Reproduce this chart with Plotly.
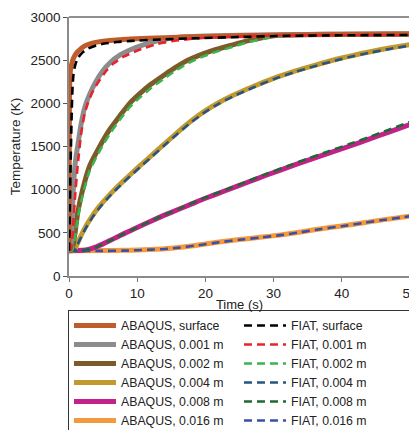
import plotly.graph_objects as go

# ---------------- data (time in s, temperature in K) ----------------
t_abq_surf = [0, 0.03, 0.06, 0.1, 0.15, 0.22, 0.35, 0.55, 0.85, 1.3, 2.3, 3.3, 4.3, 6, 9, 14, 20, 30, 40, 50]
T_abq_surf = [293, 1200, 1900, 2200, 2320, 2390, 2440, 2500, 2555, 2600, 2665, 2695, 2712, 2728, 2745, 2760, 2775, 2790, 2798, 2802]

t_fiat_surf = [0, 0.1, 0.2, 0.3, 0.4, 0.5, 0.65, 0.9, 1.3, 2, 2.8, 4, 5.2, 7, 9.2, 14, 18, 25, 32, 40, 50]
T_fiat_surf = [293, 700, 1150, 1550, 1900, 2150, 2330, 2440, 2525, 2590, 2634, 2670, 2692, 2710, 2723, 2742, 2752, 2768, 2782, 2788, 2792]

t_abq_001 = [0, 0.2, 0.35, 0.6, 0.9, 1.3, 1.8, 2.3, 3, 4, 5, 6, 7.5, 9, 11, 13, 15, 17, 20, 30, 40, 50]
T_abq_001 = [293, 300, 400, 950, 1300, 1520, 1770, 1950, 2100, 2260, 2380, 2470, 2560, 2620, 2680, 2725, 2755, 2770, 2780, 2795, 2800, 2802]

t_fiat_001 = [0, 0.3, 0.6, 0.9, 1.3, 1.8, 2.3, 2.8, 3.5, 4.5, 5.5, 6.5, 8, 9.5, 11, 13, 15.5, 18, 20, 25, 30, 40, 50]
T_fiat_001 = [293, 310, 580, 930, 1300, 1660, 1880, 2010, 2140, 2270, 2380, 2460, 2540, 2595, 2640, 2690, 2725, 2748, 2760, 2775, 2785, 2790, 2792]

t_002 = [0, 0.4, 0.8, 1.3, 2, 3, 4.5, 6, 7.5, 8.9, 10.5, 12, 14, 15.5, 17.2, 18.9, 21, 23.8, 26, 28.7, 31, 35, 40, 50]
T_abq_002 = [293, 300, 450, 744, 1000, 1270, 1500, 1700, 1860, 2000, 2120, 2220, 2330, 2410, 2490, 2550, 2610, 2673, 2720, 2765, 2790, 2798, 2800, 2802]
T_fiat_002 = [293, 293, 400, 680, 935, 1210, 1450, 1650, 1815, 1955, 2075, 2175, 2290, 2372, 2455, 2518, 2582, 2650, 2702, 2752, 2778, 2786, 2790, 2792]

t_004 = [0, 0.8, 1.2, 1.6, 2.3, 3.3, 4.3, 5.5, 6.7, 8, 9.2, 10.5, 12, 14, 16, 18, 20, 22, 24, 27, 30, 33, 36, 40, 44, 47, 50]
T_abq_004 = [293, 300, 370, 440, 552, 682, 792, 902, 1002, 1102, 1190, 1283, 1388, 1530, 1670, 1800, 1915, 2010, 2090, 2195, 2290, 2370, 2440, 2525, 2595, 2640, 2680]
T_fiat_004 = [293, 295, 355, 422, 532, 663, 774, 885, 985, 1085, 1173, 1266, 1372, 1514, 1654, 1786, 1901, 1997, 2078, 2183, 2280, 2360, 2430, 2515, 2585, 2630, 2670]

t_008 = [0, 2, 3, 4, 5, 6, 7, 8, 9, 10, 12, 14, 16, 18, 20, 23, 26, 29, 32, 35, 38, 41, 44, 47, 50]
T_abq_008 = [293, 297, 312, 338, 372, 410, 450, 488, 525, 562, 635, 705, 770, 835, 900, 990, 1080, 1170, 1255, 1340, 1420, 1500, 1585, 1670, 1755]
T_fiat_008 = [293, 297, 312, 336, 370, 408, 448, 487, 525, 563, 637, 708, 775, 842, 908, 1000, 1092, 1185, 1272, 1360, 1443, 1525, 1610, 1697, 1785]

t_016 = [0, 5, 8, 10, 12, 14, 16, 19, 22, 25, 28, 31, 34, 37, 40, 43, 46, 50]
T_abq_016 = [293, 294, 297, 302, 308, 316, 330, 360, 393, 422, 448, 476, 510, 548, 580, 615, 650, 694]
T_fiat_016 = [290, 291, 294, 299, 305, 313, 327, 357, 390, 419, 445, 473, 507, 545, 577, 612, 648, 692]

x_ticks = [0, 10, 20, 30, 40, 50]
y_ticks = [0, 500, 1000, 1500, 2000, 2500, 3000]

# ---------------- series definitions ----------------
abaqus = [
    ("ABAQUS, surface", t_abq_surf, T_abq_surf, "#C05B2C"),
    ("ABAQUS, 0.001 m", t_abq_001, T_abq_001, "#8C8C8C"),
    ("ABAQUS, 0.002 m", t_002, T_abq_002, "#7B5B29"),
    ("ABAQUS, 0.004 m", t_004, T_abq_004, "#C2992F"),
    ("ABAQUS, 0.008 m", t_008, T_abq_008, "#C2218A"),
    ("ABAQUS, 0.016 m", t_016, T_abq_016, "#F59A3C"),
]
fiat = [
    ("FIAT, surface", t_fiat_surf, T_fiat_surf, "#000000"),
    ("FIAT, 0.001 m", t_fiat_001, T_fiat_001, "#E8232B"),
    ("FIAT, 0.002 m", t_002, T_fiat_002, "#3CB44E"),
    ("FIAT, 0.004 m", t_004, T_fiat_004, "#28557F"),
    ("FIAT, 0.008 m", t_008, T_fiat_008, "#1E6A33"),
    ("FIAT, 0.016 m", t_016, T_fiat_016, "#3A4FA6"),
]

fig = go.Figure()
for i in reversed(range(len(abaqus))):
    name, tx, ty, col = abaqus[i]
    fig.add_trace(go.Scatter(
        x=tx, y=ty, name=name, mode="lines", legendrank=2 * i + 1,
        line=dict(color=col, width=5, shape="spline", smoothing=0.6)))
for i in reversed(range(len(fiat))):
    name, tx, ty, col = fiat[i]
    fig.add_trace(go.Scatter(
        x=tx, y=ty, name=name, mode="lines", legendrank=2 * i + 2,
        line=dict(color=col, width=2.6, dash="8px,5px", shape="spline", smoothing=0.6)))

font_family = "Liberation Sans, Arial, Helvetica, sans-serif"

# the page body adds an 8 px offset; the figure is sized to fill the rest of the window
fig.update_layout(
    width=409, height=422,
    margin=dict(l=61, r=7, t=9, b=154, autoexpand=False),
    paper_bgcolor="white", plot_bgcolor="white",
    font=dict(family=font_family, size=13.5, color="#222222"),
    showlegend=True,
    legend=dict(
        orientation="h", x=-0.003, xanchor="left", y=-0.1315, yanchor="top",
        traceorder="normal", entrywidth=113, itemwidth=42,
        bordercolor="#333333", borderwidth=1, bgcolor="white",
        font=dict(family=font_family, size=12.3, color="#222222"),
    ),
    xaxis=dict(
        range=[0, 50], tickvals=x_ticks, ticks="outside", ticklen=4,
        tickcolor="#777777", showline=True, linecolor="#8A8A8A", linewidth=2,
        showgrid=False, zeroline=False, automargin=False, ticklabeloverflow="allow",
        title=dict(text="Time (s)", standoff=0, font=dict(size=13)),
    ),
    yaxis=dict(
        range=[0, 3000], tickvals=y_ticks, ticks="outside", ticklen=4,
        tickcolor="#555555", showline=True, linecolor="#8A8A8A", linewidth=1.5,
        showgrid=False, zeroline=False, automargin=False,
        title=dict(text="Temperature (K)", standoff=8, font=dict(size=13.5)),
    ),
    shapes=[
        dict(type="line", xref="paper", yref="paper", x0=0, x1=1, y0=1, y1=1,
             line=dict(color="#222222", width=1.2), layer="below"),
        dict(type="line", xref="paper", yref="paper", x0=1, x1=1, y0=0, y1=1,
             line=dict(color="#222222", width=1.2), layer="below"),
    ],
)

fig.write_html("out.html")
